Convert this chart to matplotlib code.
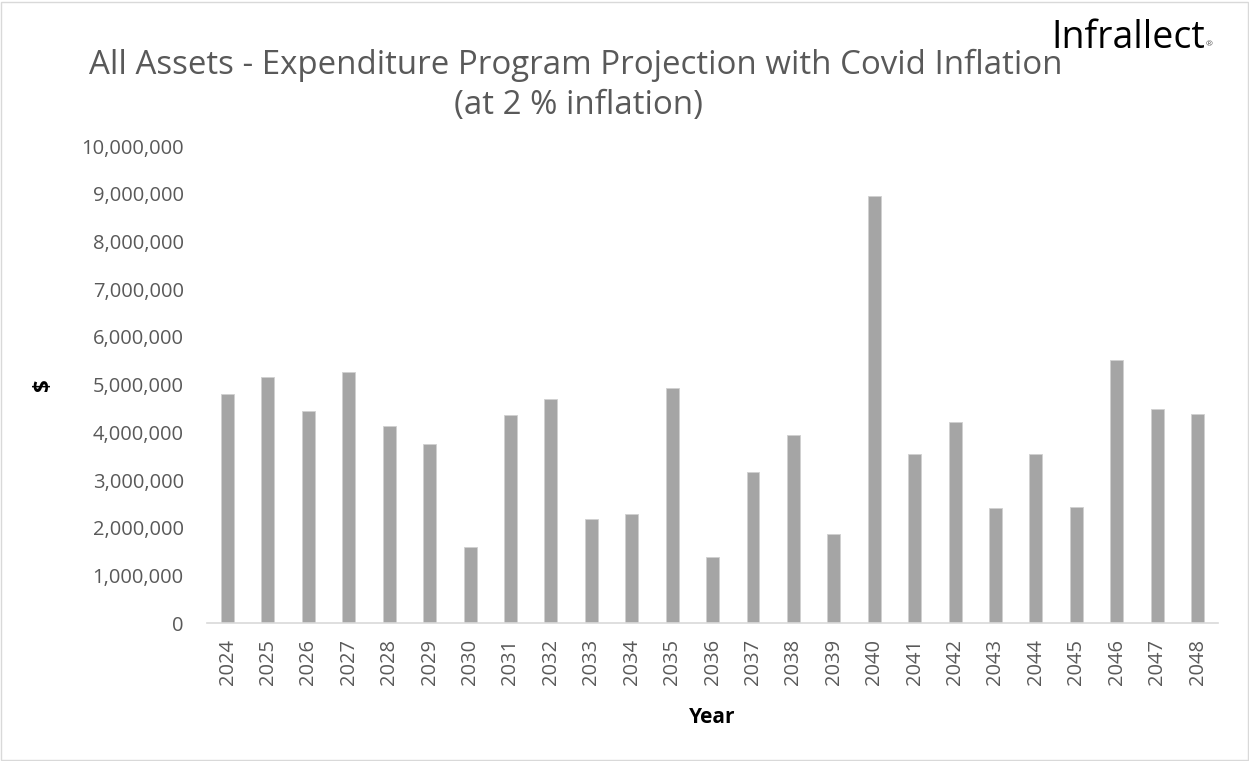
import matplotlib.pyplot as plt
from matplotlib.patches import Rectangle
from matplotlib.ticker import FuncFormatter

years = [str(y) for y in range(2024, 2049)]
spend = [4.80e6, 5.17e6, 4.45e6, 5.26e6, 4.13e6, 3.75e6, 1.59e6, 4.36e6, 4.70e6,
         2.18e6, 2.28e6, 4.94e6, 1.39e6, 3.17e6, 3.94e6, 1.87e6, 8.96e6, 3.55e6,
         4.22e6, 2.42e6, 3.54e6, 2.44e6, 5.52e6, 4.50e6, 4.38e6]

plt.rcParams['font.family'] = ['Open Sans', 'DejaVu Sans']

fig = plt.figure(figsize=(12.49, 7.61), dpi=100)
ax = fig.add_axes([0.166, 0.181, 0.809, 0.627])

ax.bar(years, spend, width=0.32, color='#A5A5A5', edgecolor='#D0D0D0', linewidth=0.6)

ax.set_ylim(0, 10_000_000)
ax.set_xlim(-0.5, len(years) - 0.5)
ax.set_yticks(range(0, 10_000_001, 1_000_000))
ax.yaxis.set_major_formatter(FuncFormatter(lambda v, p: f'{int(v):,}'))

for s in ['top', 'right', 'left']:
    ax.spines[s].set_visible(False)
ax.spines['bottom'].set_color('#D9D9D9')
ax.spines['bottom'].set_linewidth(1.2)
ax.tick_params(axis='both', length=0, colors='#595959', labelsize=14.5)
ax.tick_params(axis='y', pad=17)
ax.tick_params(axis='x', pad=11)
plt.setp(ax.get_xticklabels(), rotation=90)

ax.set_xlabel('Year', fontsize=15, fontweight='bold', labelpad=16)
ax.set_ylabel('$', fontsize=16, fontweight='bold', labelpad=20)

fig.text(0.461, 0.914, 'All Assets - Expenditure Program Projection with Covid Inflation',
         ha='center', va='center', fontsize=23.8, color='#595959')
fig.text(0.463, 0.861, '(at 2 % inflation)', ha='center', va='center',
         fontsize=23.8, color='#595959')

# logo text
fig.text(0.903, 0.950, 'Infrallect', ha='center', va='center', fontsize=27, color='black')
fig.text(0.968, 0.941, '®', ha='center', va='center', fontsize=6, color='#555555')

fig.patches.append(Rectangle((0.001, 0.001), 0.998, 0.997, transform=fig.transFigure,
                             fill=False, edgecolor='#D9D9D9', linewidth=1))

fig.savefig('out.png', dpi=100)
